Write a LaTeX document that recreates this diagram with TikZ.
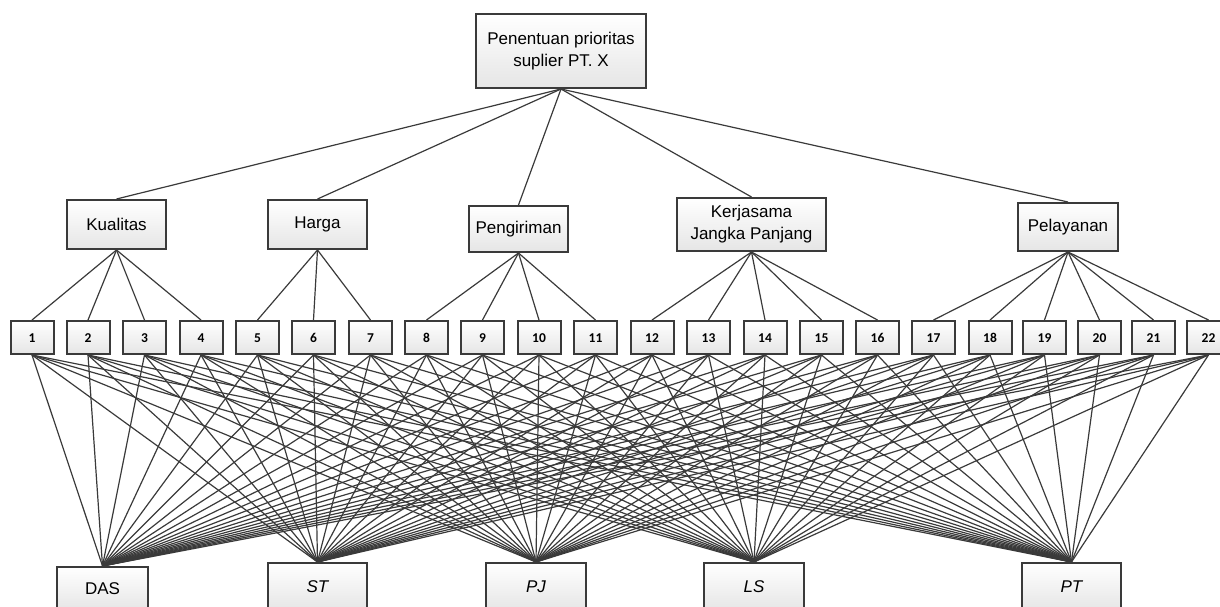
\documentclass[tikz,border=0pt]{standalone}
\usepackage{fontspec}
\setmainfont{Liberation Sans}
\newfontfamily\numfont{Carlito}
\usetikzlibrary{shadows}
\definecolor{edge}{HTML}{3A3A3A}
\tikzset{
  box/.style={draw=edge, line width=2pt, top color=white, bottom color=black!10,
    inner sep=0pt, align=center, font=\fontsize{17}{22}\selectfont,
    drop shadow={shadow xshift=1.2pt, shadow yshift=-1.2pt, opacity=0.25}},
  numbox/.style={box, minimum width=43pt, minimum height=33pt,
    text height=9pt, text depth=0pt,
    font=\numfont\bfseries\fontsize{13.5}{15}\selectfont},
  conn/.style={draw=edge, line width=1.2pt}
}
\begin{document}
\begin{tikzpicture}[x=1pt,y=-1pt]
\useasboundingbox (0,0) rectangle (1220,607);
\clip (0,0) rectangle (1220,607);
% top
\node[box, minimum width=170pt, minimum height=74pt] (top) at (561,51) {Penentuan prioritas\\suplier PT. X};
% criteria
\node[box, minimum width=99pt, minimum height=49pt] (c1) at (116.5,224.5) {Kualitas};
\node[box, minimum width=99pt, minimum height=49pt] (c2) at (317.5,224.5) {Harga};
\node[box, minimum width=99pt, minimum height=46pt] (c3) at (518.5,229) {Pengiriman};
\node[box, minimum width=149pt, minimum height=53pt] (c4) at (751.5,224.5) {Kerjasama\\Jangka Panjang};
\node[box, minimum width=100pt, minimum height=48pt] (c5) at (1068,227) {Pelayanan};
% sub criteria
\foreach \x [count=\i] in {32,88,144.5,201,257.5,313.5,370.5,426.5,482.5,539,595.5,652,708.5,765,821.5,877.5,933.5,990,1044.5,1099.5,1153.5,1208.5}
  \node[numbox] (s\i) at (\x,337.5) {\i};
% alternatives
\node[box, minimum width=91pt, minimum height=44pt] (b1) at (102.5,589) {DAS};
\node[box, minimum width=99pt, minimum height=48pt] (b2) at (317.5,587) {\itshape ST};
\node[box, minimum width=100pt, minimum height=48pt] (b3) at (536,587) {\itshape PJ};
\node[box, minimum width=100pt, minimum height=48pt] (b4) at (754,587) {\itshape LS};
\node[box, minimum width=99pt, minimum height=48pt] (b5) at (1071.5,587) {\itshape PT};
% connectors top -> criteria
\foreach \c in {c1,c2,c3,c4,c5}
  \draw[conn] (top.south) -- (\c.north);
% criteria -> sub criteria
\foreach \s in {1,2,3,4} \draw[conn] (c1.south) -- (s\s.north);
\foreach \s in {5,6,7} \draw[conn] (c2.south) -- (s\s.north);
\foreach \s in {8,9,10,11} \draw[conn] (c3.south) -- (s\s.north);
\foreach \s in {12,13,14,15,16} \draw[conn] (c4.south) -- (s\s.north);
\foreach \s in {17,18,19,20,21,22} \draw[conn] (c5.south) -- (s\s.north);
% sub criteria -> alternatives
\foreach \s in {1,...,22}
  \foreach \b in {b1,b2,b3,b4,b5}
    \draw[conn] (s\s.south) -- (\b.north);
\end{tikzpicture}
\end{document}
